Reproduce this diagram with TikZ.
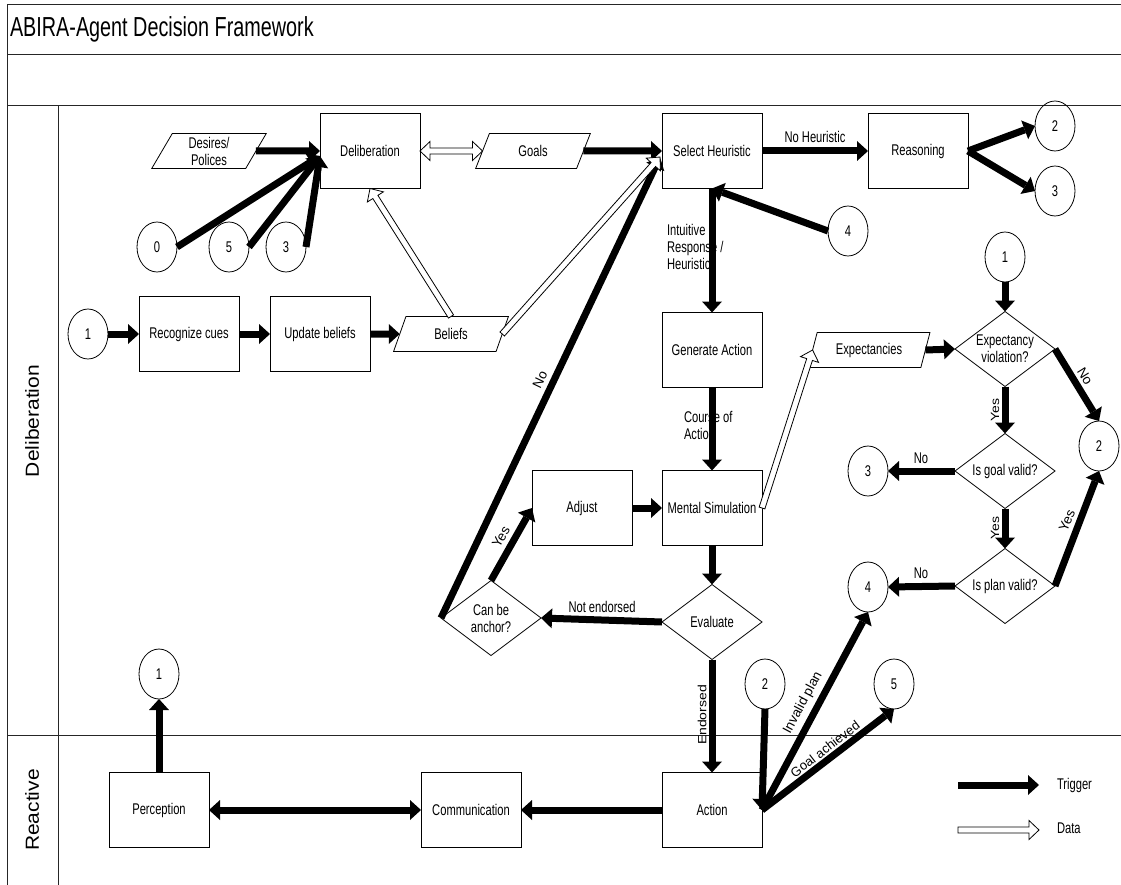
\documentclass[tikz,border=0pt]{standalone}
\usepackage{fontspec}
\usepackage{graphicx}
\setmainfont{Liberation Sans}
\newfontfamily\narrowsans{Liberation Sans}[FakeStretch=0.72]
\usetikzlibrary{shapes.geometric,arrows.meta,calc}

% hollow block arrow for data flows (one head)
\newcommand\dataflow[2]{%
  \path[dataedge]
    let \p1=(#1), \p2=(#2),
        \n1={atan2(\y2-\y1,\x2-\x1)},
        \n2={veclen(\x2-\x1,\y2-\y1)}
    in {[shift={(\p1)}, rotate=\n1]
      (0pt,-3pt) -- ({\n2*1pt-10pt},-3pt) -- ({\n2*1pt-10pt},-9.5pt) -- ({\n2*1pt},0pt)
      -- ({\n2*1pt-10pt},9.5pt) -- ({\n2*1pt-10pt},3pt) -- (0pt,3pt) -- cycle};
}
% hollow block arrow for data flows (both heads)
\newcommand\dataflowboth[2]{%
  \path[dataedge]
    let \p1=(#1), \p2=(#2),
        \n1={atan2(\y2-\y1,\x2-\x1)},
        \n2={veclen(\x2-\x1,\y2-\y1)}
    in {[shift={(\p1)}, rotate=\n1]
      (0pt,0pt) -- (10pt,-9.5pt) -- (10pt,-3pt) -- ({\n2*1pt-10pt},-3pt) -- ({\n2*1pt-10pt},-9.5pt) -- ({\n2*1pt},0pt)
      -- ({\n2*1pt-10pt},9.5pt) -- ({\n2*1pt-10pt},3pt) -- (10pt,3pt) -- (10pt,9.5pt) -- cycle};
}

\begin{document}
\begin{tikzpicture}[x=1pt,y=-1pt,
  every node/.style={inner sep=0pt,outer sep=0pt},
  frame/.style={draw=black!85,line width=1pt},
  txt/.style={font=\narrowsans\fontsize{15.5}{17}\selectfont,align=center},
  box/.style={txt,draw,line width=0.8pt,minimum width=100pt,minimum height=75pt},
  dec/.style={txt,draw,diamond,aspect=1.333,line width=0.8pt,minimum width=100pt,minimum height=75pt},
  io/.style={txt,draw,trapezium,trapezium left angle=68,trapezium right angle=112,
    trapezium stretches=true,line width=0.8pt,minimum width=115pt,minimum height=35pt},
  conn/.style={txt,draw,ellipse,line width=0.8pt,minimum width=40pt,minimum height=50pt},
  lbl/.style={font=\narrowsans\fontsize{15.5}{17}\selectfont},
  vlbl/.style={font=\fontsize{14}{17}\selectfont},
  slbl/.style={font=\fontsize{13.5}{16}\selectfont},
  lane/.style={font=\fontsize{21}{25}\selectfont,rotate=90},
  trig/.style={line width=7pt,-{Triangle[length=11pt,width=20pt,line width=0pt]}},
  trigboth/.style={line width=7pt,{Triangle[length=11pt,width=20pt,line width=0pt]}-{Triangle[length=11pt,width=20pt,line width=0pt]}},
  dataedge/.style={draw=black,fill=white,line width=0.8pt,line join=miter}
]
\useasboundingbox (0,0) rectangle (1121,885);

% pool frame and lanes
\draw[frame] (7,885) -- (7,5) -- (1121,5);
\draw[frame] (7,55) -- (1121,55);
\draw[frame] (7,106) -- (1121,106);
\draw[frame] (58,106) -- (58,885);
\draw[frame] (7,735) -- (1121,735);

\node[anchor=base west,font=\narrowsans\fontsize{27.5}{30}\selectfont] (title) at (10,37) {ABIRA-Agent Decision Framework};
\node[lane] (lanedelib) at (32,421) {\scalebox{1}[0.9]{Deliberation}};
\node[lane] (lanereact) at (32,810) {\scalebox{1}[0.9]{Reactive}};

% process nodes
\node[io] (desires) at (209,151) {Desires/\\Polices};
\node[box] (delib) at (370,151) {Deliberation};
\node[io] (goals) at (533,151) {Goals};
\node[box] (selh) at (712,151) {Select Heuristic};
\node[box] (reason) at (918,151) {Reasoning};
\node[conn] (r2) at (1055,126) {2};
\node[conn] (r3) at (1055,191) {3};
\node[conn] (in0) at (157,247) {0};
\node[conn] (in5) at (229,247) {5};
\node[conn] (in3) at (286,247) {3};
\node[conn] (h4) at (848,231) {4};
\node[conn] (ev1) at (1005,257) {1};
\node[conn] (cue1) at (88,334) {1};
\node[box] (recog) at (189,334) {Recognize cues};
\node[box] (update) at (320,334) {Update beliefs};
\node[io] (beliefs) at (451,334) {Beliefs};
\node[box] (gen) at (712,350) {Generate Action};
\node[io,minimum width=122pt] (expect) at (869,350) {Expectancies};
\node[dec] (expviol) at (1005,349) {Expectancy\\violation?};
\node[conn] (out2) at (1099,446) {2};
\node[dec] (goalok) at (1005,471) {Is goal valid?};
\node[conn] (out3) at (868,471) {3};
\node[box] (adjust) at (582,508) {Adjust};
\node[box] (mental) at (712,508) {Mental Simulation};
\node[dec] (planok) at (1005,586) {Is plan valid?};
\node[conn] (out4) at (868,587) {4};
\node[dec] (anchor) at (491,618) {Can be\\anchor?};
\node[dec] (evaluate) at (712,622) {Evaluate};
\node[conn] (per1) at (159,674) {1};
\node[conn] (act2) at (765,684) {2};
\node[conn] (act5) at (894,684) {5};
\node[box] (percep) at (159,810) {Perception};
\node[box] (comm) at (471,810) {Communication};
\node[box] (action) at (712,810) {Action};

% labels lying under connectors
\node[lbl,anchor=west,align=left] (lintuit) at (667,247) {Intuitive\\Response /\\Heuristic};
\node[lbl,anchor=west,align=left] (lcourse) at (684,425) {Course of\\Action};

% merge points
\coordinate (dconv) at (320,156);
\coordinate (sconv) at (660,157);

% trigger flows
\draw[trig] (desires.east) -- (delib.west);
\draw[trig] (in0.east) -- (dconv);
\draw[trig] (in5.east) -- (dconv);
\draw[trig] (in3.east) -- (dconv);
\draw[trig] (goals.east) -- (selh.west);
\draw[trig] (anchor.west) -- (sconv);
\draw[trig] (selh.east) -- (reason.west);
\draw[trig] (reason.east) -- (r2.west);
\draw[trig] (reason.east) -- (r3.west);
\draw[trig] (h4.west) -- (selh.south);
\draw[trig] (selh.south) -- (gen.north);
\draw[trig] (cue1.east) -- (recog.west);
\draw[trig] (recog.east) -- (update.west);
\draw[trig] (update.east) -- (beliefs.west);
\draw[trig] (gen.south) -- (mental.north);
\draw[trig] (adjust.east) -- (mental.west);
\draw[trig] (mental.south) -- (evaluate.north);
\draw[trig] (evaluate.west) -- (anchor.east);
\draw[trig] (anchor.north) -- (adjust.west);
\draw[trig] (evaluate.south) -- (action.north);
\draw[trig] (action.west) -- (comm.east);
\draw[trigboth] (percep.east) -- (comm.west);
\draw[trig] (percep.north) -- (per1.south);
\draw[trig] (act2.south) -- (action.east);
\draw[trig] (action.east) -- (out4.south);
\draw[trig] (action.east) -- (act5.south);
\draw[trig] (ev1.south) -- (expviol.north);
\draw[trig] (expect.east) -- (expviol.west);
\draw[trig] (expviol.south) -- (goalok.north);
\draw[trig] (expviol.east) -- (out2.north);
\draw[trig] (goalok.west) -- (out3.east);
\draw[trig] (goalok.south) -- (planok.north);
\draw[trig] (planok.west) -- (out4.east);
\draw[trig] (planok.east) -- (out2.south);

% data flows
\dataflowboth{delib.east}{goals.west}
\dataflow{beliefs.north}{delib.south}
\dataflow{beliefs.east}{sconv}
\dataflow{mental.east}{expect.west}

% connector labels
\node[lbl] (lnoheur) at (815,137) {No Heuristic};
\node[lbl] (lnotend) at (602,607) {Not endorsed};
\node[vlbl,rotate=90] (lendorsed) at (702,715) {\scalebox{1}[0.85]{Endorsed}};
\node[slbl,rotate=60] (lyesadj) at (501,537) {Yes};
\node[slbl,rotate=64.5] (lnoback) at (540,380) {No};
\node[vlbl,rotate=90] (lyes1) at (995,410) {\scalebox{1}[0.85]{Yes}};
\node[vlbl,rotate=90] (lyes2) at (995,528) {\scalebox{1}[0.85]{Yes}};
\node[slbl,rotate=-58] (lno1) at (1085,376) {No};
\node[slbl,rotate=67] (lyes3) at (1067,521) {Yes};
\node[lbl] (lno2) at (921,458) {No};
\node[lbl] (lno3) at (921,573) {No};
\node[slbl,rotate=62] (linvalid) at (803,703) {Invalid plan};
\node[slbl,rotate=37.6,font=\fontsize{13}{16}\selectfont] (lgoal) at (825,749) {Goal achieved};

% legend
\coordinate (trigA) at (958,785);
\coordinate (trigB) at (1039,785);
\draw[trig] (trigA) -- (trigB);
\node[lbl,anchor=west] (ltrig) at (1057,785) {Trigger};
\coordinate (dataA) at (958,830);
\coordinate (dataB) at (1039,830);
\dataflow{dataA}{dataB}
\node[lbl,anchor=west] (ldata) at (1057,828) {Data};
\end{tikzpicture}
\end{document}
